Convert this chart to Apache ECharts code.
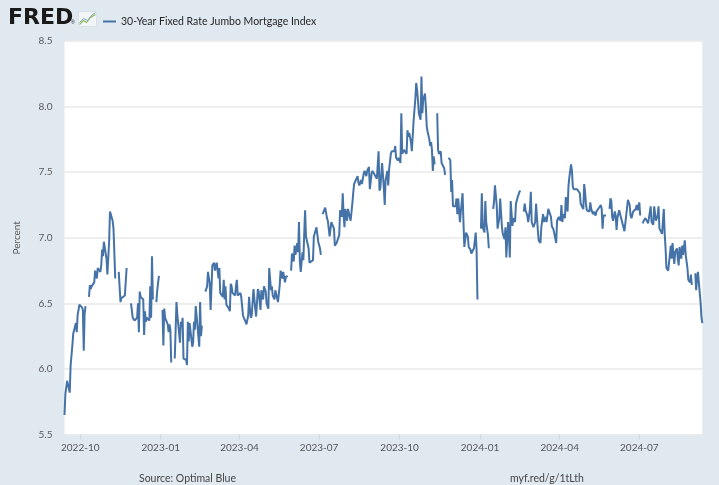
<!DOCTYPE html>
<html>
<head>
<meta charset="utf-8">
<script src="https://cdn.jsdelivr.net/npm/echarts@6/dist/echarts.min.js"></script>
<style>
html,body{margin:0;padding:0;background:#e1e9f0;}
#chart{width:719px;height:485px;}
</style>
</head>
<body>
<div id="chart"></div>
<script>
// ---------- DATA (null = missing observation, line break) ----------
var seriesName = '30-Year Fixed Rate Jumbo Mortgage Index';
var yAxisName = 'Percent';
var sourceText = 'Source: Optimal Blue';
var linkText = 'myf.red/g/1tLth';
var xTickLabels = ['2022-10','2023-01','2023-04','2023-07','2023-10','2024-01','2024-04','2024-07'];
var yTicks = [5.5, 6.0, 6.5, 7.0, 7.5, 8.0, 8.5];

var days2022 = ['09-13','09-14','09-16','09-19','09-20','09-22','09-23','09-26','09-27','09-28','09-30',
'10-03','10-04','10-05','10-06','10-07','10-10','10-11','10-12','10-13','10-14','10-17','10-18','10-20','10-21','10-24','10-25','10-26','10-27','10-28','10-31',
'11-01','11-03','11-04','11-07','11-08','11-09','11-10','11-11','11-14','11-15','11-16','11-17','11-18','11-21','11-23','11-24','11-28','11-29','11-30',
'12-01','12-02','12-05','12-06','12-07','12-08','12-09','12-12','12-13','12-14','12-15','12-16','12-19','12-20','12-21','12-22','12-23','12-26','12-27','12-28','12-29','12-30'];
var values2022 = [5.65,5.81,5.91,5.82,6.03,6.18,6.27,6.35,6.28,6.41,6.49,
6.47,6.45,6.14,6.42,6.48,null,6.55,6.64,6.61,6.63,6.66,6.75,6.69,6.77,6.74,6.79,6.91,6.86,6.97,6.84,
6.72,6.97,7.20,7.13,7.07,7.06,6.69,null,6.74,6.73,6.51,6.54,6.55,6.56,6.77,null,6.50,6.49,6.39,
6.38,6.37,6.39,6.50,6.28,6.59,6.55,6.53,6.26,6.44,6.36,6.39,6.37,6.63,6.39,6.86,6.53,null,6.51,6.60,6.66,6.71];

var days2023 = ['01-02','01-03','01-04','01-05','01-06','01-09','01-10','01-11','01-12','01-13','01-16','01-17','01-18','01-19','01-20','01-23','01-24','01-25','01-26','01-27','01-30','01-31',
'02-01','02-02','02-03','02-06','02-07','02-08','02-09','02-10','02-13','02-14','02-15','02-16','02-17','02-20','02-21','02-23','02-24','02-26','02-27',
'03-01','03-03','03-04','03-06','03-08','03-09','03-10','03-13','03-14','03-15','03-16','03-17','03-20','03-21','03-22','03-23','03-24','03-27','03-28','03-29','03-30',
'04-02','04-03','04-05','04-06','04-08','04-09','04-11','04-12','04-13','04-14','04-15','04-17','04-19','04-20','04-22','04-23','04-25','04-26','04-28','04-29',
'05-01','05-02','05-04','05-05','05-07','05-08','05-09','05-11','05-12','05-14','05-15','05-17','05-18','05-20','05-21','05-23','05-24','05-26','05-28','05-30','05-31',
'06-02','06-03','06-04','06-06','06-07','06-08','06-09','06-10','06-12','06-13','06-14','06-15','06-16','06-19','06-20','06-22','06-24','06-25','06-27','06-28','06-30',
'07-02','07-03','07-04','07-05','07-07','07-08','07-10','07-11','07-13','07-15','07-16','07-18','07-19','07-21','07-22','07-24','07-25','07-27','07-28','07-29','07-30','07-31',
'08-02','08-03','08-05','08-06','08-08','08-09','08-10','08-12','08-14','08-15','08-16','08-18','08-19','08-21','08-22','08-24','08-25','08-27','08-28','08-30','08-31',
'09-02','09-05','09-06','09-07','09-08','09-09','09-10','09-11','09-13','09-14','09-15','09-17','09-18','09-19','09-21','09-22','09-23','09-25','09-26','09-27','09-29','09-30',
'10-02','10-03','10-04','10-06','10-07','10-09','10-10','10-11','10-12','10-14','10-15','10-17','10-19','10-20','10-21','10-22','10-23','10-25','10-26','10-27','10-28','10-30','10-31',
'11-01','11-02','11-04','11-05','11-06','11-07','11-08','11-09','11-10','11-11','11-13','11-14','11-15','11-17','11-18','11-19','11-21','11-22','11-24','11-26','11-28','11-29','11-30',
'12-01','12-02','12-04','12-05','12-06','12-07','12-08','12-09','12-10','12-12','12-13','12-14','12-16','12-18','12-19','12-21','12-22','12-25','12-27','12-28','12-29'];
var values2023 = [null,6.45,6.18,6.46,6.39,6.34,6.28,6.34,6.30,6.05,null,6.08,6.09,6.51,6.41,6.20,6.36,6.32,6.39,6.08,6.07,6.03,
6.36,6.21,6.35,6.17,6.20,6.36,6.30,6.48,6.25,6.17,6.51,6.25,6.33,null,6.59,6.63,6.74,6.65,6.45,
6.79,6.81,6.75,6.81,6.69,6.77,6.58,6.55,6.68,6.53,6.63,6.49,6.46,6.44,6.65,6.63,6.58,6.56,6.63,6.68,6.56,
6.58,6.55,6.41,6.39,6.36,6.34,6.41,6.55,6.45,6.39,6.41,6.61,6.46,6.40,6.61,6.59,6.45,6.60,6.53,6.63,
6.59,6.50,6.46,6.77,6.60,6.63,6.56,6.53,6.60,6.54,6.51,6.64,6.75,6.69,6.74,6.66,6.70,6.71,null,6.75,6.88,
6.82,6.94,6.87,6.96,6.89,7.12,6.82,6.74,6.89,6.83,7.03,7.21,7.01,6.92,6.81,6.81,6.83,7.01,7.00,7.08,6.97,
6.92,6.87,null,7.18,7.17,7.23,7.15,7.13,7.01,7.12,7.11,7.07,6.94,6.96,6.96,7.02,7.21,7.16,7.34,7.18,7.08,7.22,
7.13,7.22,7.21,7.13,7.26,7.34,7.41,7.40,7.47,7.42,7.40,7.44,7.41,7.49,7.51,7.47,7.51,7.54,7.37,7.49,7.51,
7.50,7.45,7.44,7.66,7.36,7.38,7.39,7.57,7.38,7.25,7.44,7.51,7.40,7.52,7.64,7.66,7.66,7.66,7.70,7.61,7.59,7.61,
7.57,7.95,7.64,7.67,7.66,7.64,7.82,7.77,7.80,7.73,7.66,7.89,8.06,8.18,8.13,8.05,7.95,7.90,8.23,7.95,8.05,8.10,8.00,
7.85,7.81,7.75,7.70,7.73,7.67,7.51,7.62,7.56,null,7.95,7.67,7.64,7.66,7.57,7.58,7.53,7.48,null,7.61,7.59,7.35,7.44,
7.24,7.24,7.24,7.30,7.18,7.30,7.21,7.12,7.20,7.34,7.12,6.93,7.04,7.01,6.93,6.91,6.88,6.92,7.04,6.91,6.53];

var days2024 = ['01-01','01-02','01-03','01-04','01-06','01-07','01-08','01-10','01-11','01-13','01-16','01-17','01-18','01-20','01-21','01-23','01-24','01-26','01-27','01-29','01-30','01-31',
'02-02','02-03','02-04','02-05','02-07','02-08','02-10','02-11','02-13','02-15','02-16','02-19','02-20','02-21','02-22','02-24','02-25','02-27','02-28','02-29',
'03-02','03-04','03-05','03-07','03-08','03-10','03-11','03-13','03-14','03-16','03-17','03-19','03-20','03-22','03-23','03-25','03-26','03-28','03-29','03-31',
'04-02','04-03','04-04','04-05','04-07','04-08','04-10','04-11','04-12','04-14','04-15','04-16','04-17','04-19','04-21','04-22','04-24','04-25','04-26','04-28','04-29','04-30',
'05-01','05-02','05-04','05-05','05-06','05-07','05-09','05-10','05-12','05-13','05-15','05-16','05-18','05-19','05-20','05-21','05-24','05-27','05-28','05-29','05-30','05-31',
'06-01','06-03','06-04','06-05','06-06','06-08','06-10','06-11','06-13','06-14','06-15','06-17','06-18','06-20','06-21','06-22','06-24','06-25','06-27','06-28','06-29',
'07-01','07-02','07-04','07-05','07-06','07-08','07-09','07-11','07-12','07-14','07-15','07-17','07-18','07-20','07-22','07-23','07-24','07-26','07-27','07-29','07-30','07-31',
'08-01','08-03','08-04','08-06','08-07','08-08','08-10','08-11','08-13','08-14','08-15','08-16','08-18','08-19','08-20','08-22','08-23','08-25','08-26','08-28','08-29','08-30',
'09-02','09-03','09-04','09-05','09-06','09-08','09-09','09-10','09-11'];
var values2024 = [null,7.07,7.34,7.08,7.04,7.28,7.12,7.02,6.92,null,7.22,7.28,7.40,7.25,7.07,7.15,7.30,7.08,7.03,6.99,7.08,6.85,
7.12,7.02,6.85,7.28,7.09,7.15,7.12,7.26,7.31,7.35,7.36,null,7.20,7.26,7.21,7.17,7.12,7.22,7.35,7.12,
7.08,7.12,7.26,7.06,6.98,6.96,7.08,7.18,7.12,7.16,7.12,7.22,7.21,7.16,7.09,7.06,7.07,6.96,7.13,7.16,
7.13,7.25,7.12,7.18,7.15,7.31,7.20,7.39,7.46,7.56,7.51,7.39,7.37,7.36,7.37,7.36,7.34,7.26,7.25,7.22,7.41,7.35,
7.26,7.21,7.20,7.20,7.27,7.22,7.18,7.20,7.17,7.20,7.22,7.23,7.25,7.22,7.07,7.17,7.17,null,7.22,7.30,7.28,7.16,
7.13,7.20,7.17,7.06,7.15,7.21,7.21,7.13,7.12,7.05,7.11,7.10,7.29,7.25,7.17,7.15,7.20,7.19,7.22,7.25,7.21,
7.27,7.17,null,7.11,7.13,7.15,7.16,7.11,7.15,7.24,7.12,7.10,7.24,7.13,7.17,7.24,7.07,7.06,7.03,7.22,7.03,6.92,
6.77,6.75,6.75,6.94,6.84,6.96,6.80,6.89,6.92,6.84,6.79,6.93,6.84,6.94,6.87,6.98,6.87,6.77,6.68,6.66,6.72,6.64,
null,6.73,6.60,6.69,6.74,6.75,6.51,6.40,6.35];

// ---------- build ----------
function toTime(s) { return echarts.number.parseDate(s).getTime(); }
function build(year, days, vals) {
  return days.map(function (d, i) {
    return [toTime(year + '-' + d), vals[i] === null ? '-' : vals[i]];
  });
}
var seriesData = [].concat(
  build('2022', days2022, values2022),
  build('2023', days2023, values2023),
  build('2024', days2024, values2024)
);
var firstTime = seriesData[0][0];
var lastTime = seriesData[seriesData.length - 1][0];
var tickValues = xTickLabels.map(function (m) { return toTime(m + '-01'); });

var font = 'Lato, "Open Sans", sans-serif';
var chart = echarts.init(document.getElementById('chart'), null, {renderer: 'canvas'});
chart.setOption({
  animation: false,
  backgroundColor: '#e1e9f0',
  textStyle: {fontFamily: font},
  legend: {
    show: true,
    left: 98,
    top: 11,
    itemWidth: 13,
    itemHeight: 2,
    icon: 'rect',
    textStyle: {color: '#262626', fontSize: 10.5, fontFamily: font},
    data: [seriesName]
  },
  grid: {
    left: 64.5,
    right: 16.7,
    top: 41,
    bottom: 50.4,
    show: true,
    backgroundColor: '#ffffff',
    borderWidth: 0,
    containLabel: false
  },
  xAxis: {
    type: 'value',
    min: firstTime,
    max: lastTime,
    scale: true,
    axisLine: {show: false},
    splitLine: {show: false},
    axisTick: {
      show: true,
      customValues: tickValues,
      length: 5,
      lineStyle: {color: '#cfd8e0', width: 1}
    },
    axisLabel: {
      customValues: tickValues,
      color: '#555555',
      fontSize: 10,
      margin: 8,
      fontFamily: font,
      showMinLabel: true,
      showMaxLabel: true,
      formatter: function (v) { return echarts.time.format(v, '{yyyy}-{MM}', false); }
    }
  },
  yAxis: {
    type: 'value',
    min: yTicks[0],
    max: yTicks[yTicks.length - 1],
    interval: 0.5,
    name: yAxisName,
    nameLocation: 'middle',
    nameGap: 43,
    nameRotate: 90,
    nameTextStyle: {color: '#595959', fontSize: 10, fontFamily: font},
    axisLine: {show: false},
    axisTick: {show: false},
    axisLabel: {
      color: '#595959',
      fontSize: 10,
      margin: 12,
      fontFamily: font,
      formatter: function (v) { return v.toFixed(1); }
    },
    splitLine: {show: true, lineStyle: {color: '#e8e8e8', width: 1.5}}
  },
  series: [{
    name: seriesName,
    type: 'line',
    data: seriesData,
    showSymbol: false,
    symbol: 'none',
    connectNulls: false,
    color: '#4572a7',
    lineStyle: {color: '#4572a7', width: 2},
    emphasis: {disabled: true}
  }],
  graphic: [
    {
      type: 'text', left: 8, top: 7,
      style: {text: 'FRED', fill: '#1a1a1a', font: '900 22px "DejaVu Sans", sans-serif'}
    },
    {
      type: 'text', left: 71, top: 20,
      style: {text: '\u00AE', fill: '#1a1a1a', font: '5px sans-serif'}
    },
    {
      type: 'group', left: 77, top: 10,
      children: [
        {type: 'rect', shape: {x: 0, y: 0, width: 18, height: 15}, style: {fill: '#f3f6f9', stroke: '#c9d3dd', lineWidth: 0.5}},
        {type: 'polyline', shape: {points: [[1, 13], [5, 9], [8, 11], [12, 6], [17, 3]]}, style: {stroke: '#8cbf5a', lineWidth: 1.2, fill: null}},
        {type: 'polyline', shape: {points: [[1, 11], [5, 7], [9, 9], [13, 4], [17, 1]]}, style: {stroke: '#7f9fc0', lineWidth: 1, fill: null}}
      ]
    },
    {
      type: 'text', left: 139, top: 473,
      style: {text: sourceText, fill: '#444444', font: '10.5px ' + font}
    },
    {
      type: 'text', left: 510, top: 473,
      style: {text: linkText, fill: '#444444', font: '10.5px ' + font}
    }
  ]
});
</script>
</body>
</html>
